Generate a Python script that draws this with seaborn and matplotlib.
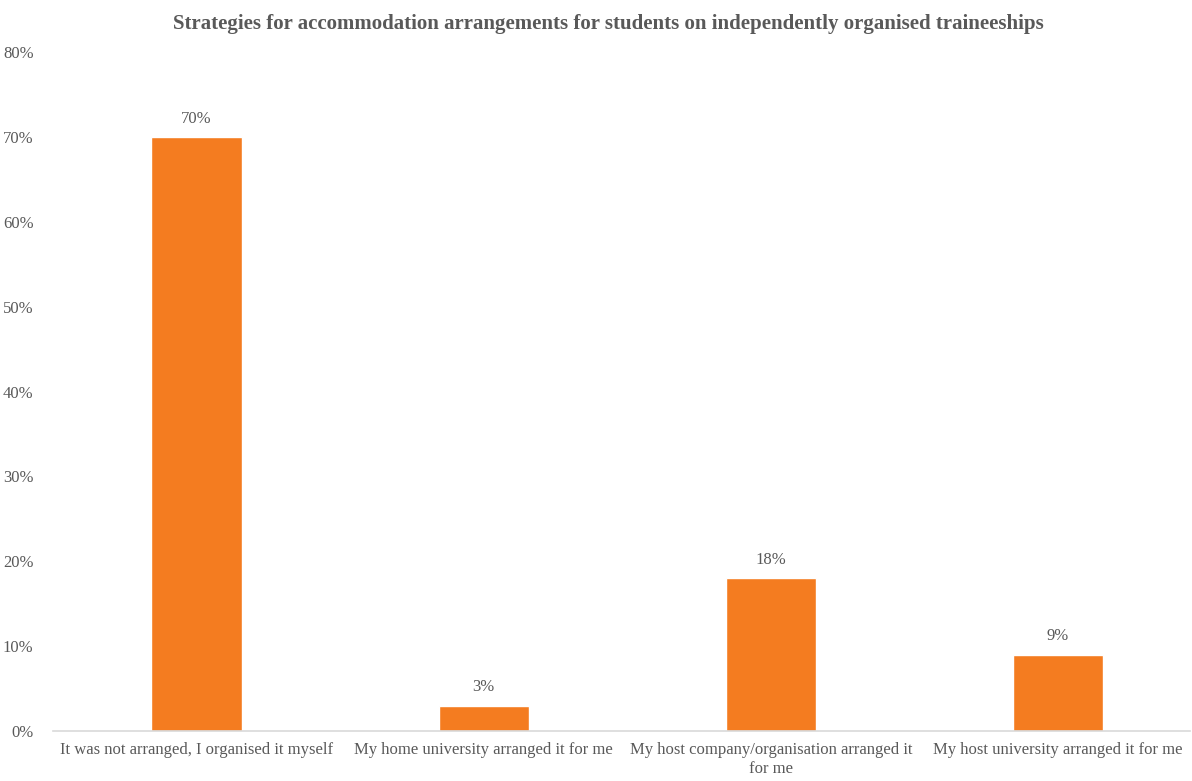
import matplotlib
matplotlib.use("Agg")
import matplotlib.pyplot as plt
import seaborn as sns
import pandas as pd

categories = [
    "It was not arranged, I organised it myself",
    "My home university arranged it for me",
    "My host company/organisation arranged it\nfor me",
    "My host university arranged it for me",
]
shares = [70, 3, 18, 9]
y_ticks = [0, 10, 20, 30, 40, 50, 60, 70, 80]

df = pd.DataFrame({"category": categories, "share": shares})

sns.set_style("white")
plt.rcParams["font.family"] = ["Liberation Serif", "DejaVu Serif"]

grey = "#595959"
fig = plt.figure(figsize=(11.92, 7.81), dpi=100)
ax = fig.add_axes([0.0445, 0.064, 0.954, 0.8694])

sns.barplot(data=df, x="category", y="share", color="#F47C20", width=0.315,
            saturation=1, ax=ax)

for i, v in enumerate(shares):
    ax.text(i, v + 1.2, f"{v}%", ha="center", va="bottom", fontsize=12, color=grey)

ax.set_ylim(0, 80)
ax.set_xlim(-0.5, 3.46)
ax.set_yticks(y_ticks)
ax.set_yticklabels([f"{t}%" for t in y_ticks])
ax.tick_params(axis="both", length=0, labelsize=12, labelcolor=grey)
ax.tick_params(axis="y", pad=14)
ax.tick_params(axis="x", pad=8)
ax.set_xlabel("")
ax.set_ylabel("")

for side in ["top", "right", "left"]:
    ax.spines[side].set_visible(False)
ax.spines["bottom"].set_color("#D9D9D9")
ax.spines["bottom"].set_linewidth(1.2)

fig.suptitle("Strategies for accommodation arrangements for students on independently organised traineeships",
             x=0.51, y=0.982, fontsize=15, fontweight="bold", color=grey)

fig.savefig("out.png", dpi=100)
